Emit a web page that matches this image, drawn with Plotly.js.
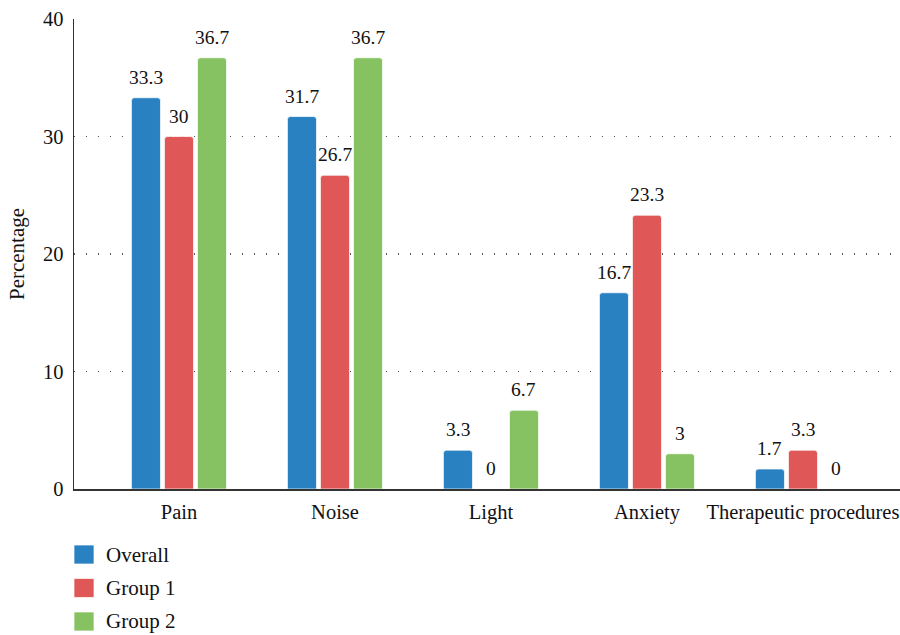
<!DOCTYPE html>
<html>
<head>
<meta charset="utf-8">
<script src="https://cdn.plot.ly/plotly-3.0.1.min.js"></script>
<style>html,body{margin:0;padding:0;background:#fff;}#chart{width:900px;height:635px;}</style>
</head>
<body>
<div id="chart"></div>
<script>
const categories = ["Pain", "Noise", "Light", "Anxiety", "Therapeutic procedures"];
const seriesNames = ["Overall", "Group 1", "Group 2"];
const overall = [33.3, 31.7, 3.3, 16.7, 1.7];
const group1 = [30, 26.7, 0, 23.3, 3.3];
const group2 = [36.7, 36.7, 6.7, 3, 0];
const yTicks = [0, 10, 20, 30, 40];
const colors = ["#2a81c2", "#df5756", "#86c262"];

const seriesValues = [overall, group1, group2];
const FONT = "Liberation Serif, Times New Roman, serif";

const traces = seriesValues.map((vals, i) => ({
  type: "bar",
  name: seriesNames[i],
  x: categories,
  y: vals,
  marker: { color: colors[i], line: { color: "rgba(255,255,255,0.7)", width: 1 } },
  showlegend: false,
  hoverinfo: "skip"
}));

const pitch = 33;
const annotations = [];
seriesValues.forEach((vals, i) => {
  vals.forEach((v, j) => {
    annotations.push({
      x: categories[j], y: v, xref: "x", yref: "y",
      text: String(v), showarrow: false,
      xshift: (i - 1) * pitch, yshift: 8, yanchor: "bottom", xanchor: "center",
      font: { family: FONT, size: 19.5, color: "#111" }
    });
  });
});

const legendY = [-0.1394, -0.2106, -0.2819];
const shapes = [];
seriesNames.forEach((n, i) => {
  shapes.push({
    type: "rect", xref: "paper", yref: "paper",
    xsizemode: "pixel", ysizemode: "pixel",
    xanchor: 0, yanchor: legendY[i],
    x0: 0, x1: 20, y0: -9.5, y1: 9.5,
    fillcolor: colors[i], line: { color: "rgba(255,255,255,0.7)", width: 1 }
  });
  annotations.push({
    x: 0.0363, y: legendY[i], xref: "paper", yref: "paper",
    xanchor: "left", yanchor: "middle", showarrow: false,
    text: n, font: { family: FONT, size: 21, color: "#111" }
  });
});

const layout = {
  width: 900, height: 635,
  margin: { l: 74, r: 0, t: 19, b: 146 },
  paper_bgcolor: "#fff", plot_bgcolor: "#fff",
  font: { family: FONT, size: 20.5, color: "#111" },
  barmode: "group",
  bargap: 0.365,
  bargroupgap: 0.12,
  barcornerradius: 3,
  xaxis: {
    type: "category",
    range: [-0.673, 4.622],
    showline: true, linecolor: "#333", linewidth: 1.5,
    showgrid: false, zeroline: false, ticks: "",
    tickfont: { family: FONT, size: 20.5, color: "#111" },
    ticklabelstandoff: 4
  },
  yaxis: {
    range: [0, 40],
    tickvals: yTicks,
    ticktext: yTicks.map(String),
    showline: true, linecolor: "#333", linewidth: 1.5,
    showgrid: true, gridcolor: "#555", gridwidth: 1.3, griddash: "1px,11px",
    zeroline: false, ticks: "",
    tickfont: { family: FONT, size: 20.5, color: "#111" },
    ticklabelstandoff: 5,
    title: { text: "Percentage", font: { family: FONT, size: 21, color: "#111" }, standoff: 12 }
  },
  shapes: shapes,
  annotations: annotations,
  showlegend: false
};

Plotly.newPlot("chart", traces, layout, { staticPlot: true, displayModeBar: false });
</script>
</body>
</html>
